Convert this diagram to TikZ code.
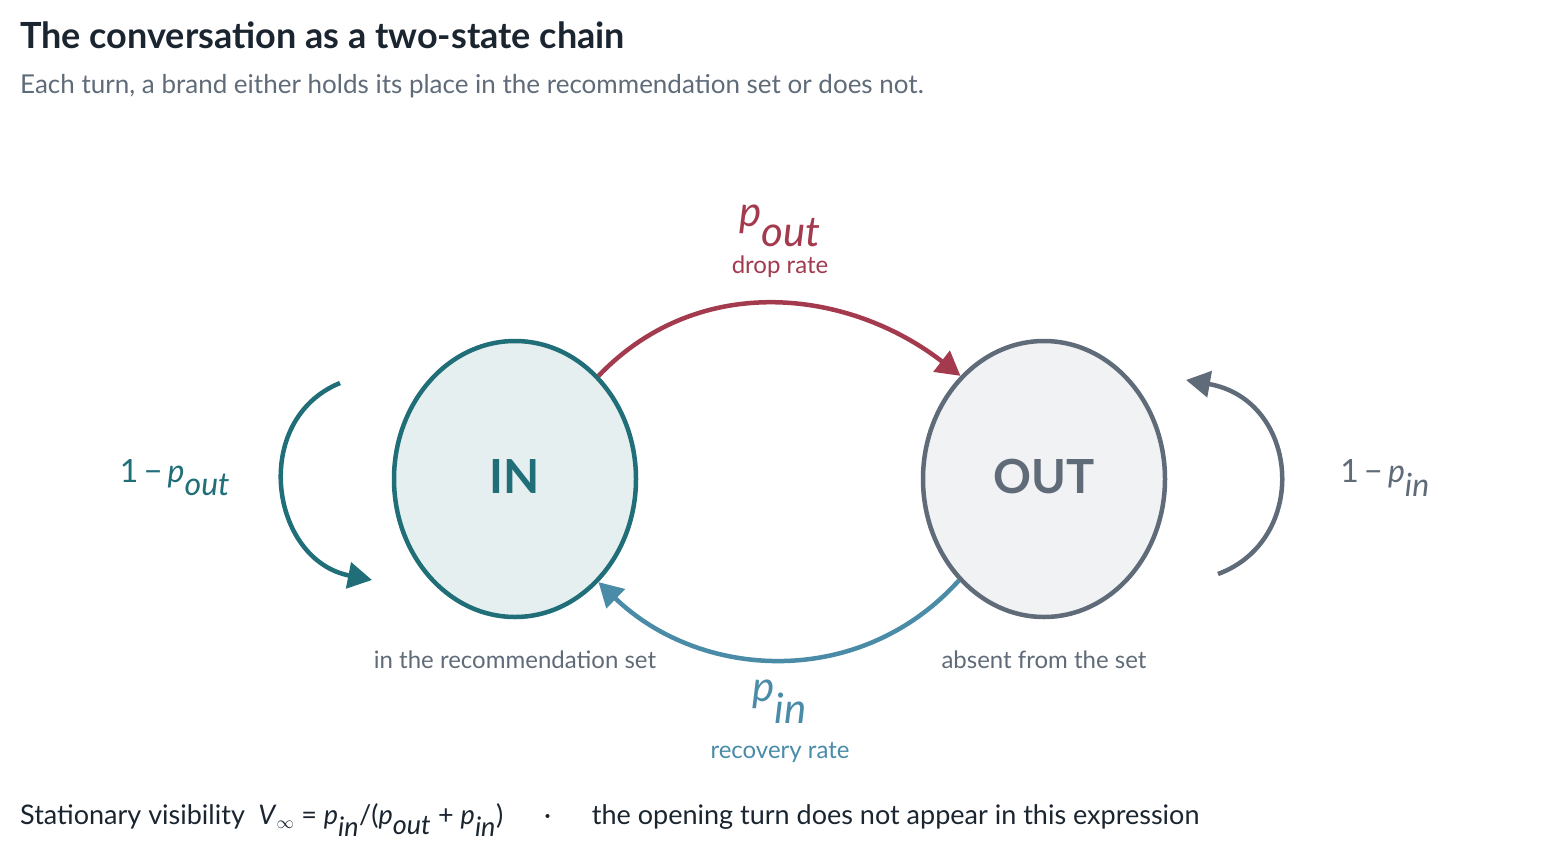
\documentclass[tikz,border=0pt]{standalone}
\usepackage{fontspec}
\setmainfont{Lato}
\usetikzlibrary{shapes.geometric,arrows.meta}
\definecolor{teal}{HTML}{1F6E78}
\definecolor{slate}{HTML}{5F6B78}
\definecolor{wine}{HTML}{A33A4E}
\definecolor{sky}{HTML}{4A8BA8}
\definecolor{ink}{HTML}{1A2530}
\newcommand{\pr}[1]{\textit{p}$_{\textit{#1}}$}
\newcommand{\fs}[1]{\fontsize{#1}{#1}\selectfont}
\tikzset{
  state/.style={ellipse, line width=4.5pt, minimum width=242pt, minimum height=276pt},
  trans/.style={line width=4.5pt, -{Triangle[length=24pt,width=26pt]}},
  note/.style={text=slate, font=\fs{24}},
}
\begin{document}
\begin{tikzpicture}[x=1pt,y=-1pt]

\useasboundingbox (0,0) rectangle (1559,857);

\node[anchor=west, inner sep=0pt, text=ink, font=\fs{36}\bfseries] (title) at (20,35) {The conversation as a two-state chain};
\node[anchor=west, inner sep=0pt, text=slate, font=\fs{26}] (sub) at (20,86) {Each turn, a brand either holds its place in the recommendation set or does not.};

\node[state, draw=teal, fill=teal!11] (in) at (515,479) {};
\node[state, draw=slate, fill=slate!9] (out) at (1044,479) {};
\node[text=teal, font=\fs{47}\bfseries] (inl) at (515,477) {IN};
\node[text=slate, font=\fs{47}\bfseries] (outl) at (1044,477) {OUT};

\node[note] (innote) at (515,660) {in the recommendation set};
\node[note] (outnote) at (1044,660) {absent from the set};

% transitions between the states
\draw[trans, wine] (in.51) .. controls (700,270) and (850,290) .. (out.129);
\draw[trans, sky] (out.-130) .. controls (860,690) and (700,680) .. (in.-51);

\node[text=wine, font=\fs{42}] (pout) at (780,226) {\pr{out}};
\node[text=wine, font=\fs{24}] (drop) at (780,267) {drop rate};
\node[text=sky, font=\fs{42}] (pin) at (780,702) {\pr{in}};
\node[text=sky, font=\fs{24}] (rec) at (780,752) {recovery rate};

% self loops
\coordinate (ls) at (340,383);
\coordinate (le) at (372,580);
\coordinate (rs) at (1218,574);
\coordinate (re) at (1186,380);
\draw[trans, teal] (ls) .. controls (250,420) and (270,560) .. (le);
\draw[trans, slate] (rs) .. controls (1310,540) and (1300,400) .. (re);

\node[text=teal, font=\fs{32}] (stayin) at (175,478) {1\,−\,\pr{out}};
\node[text=slate, font=\fs{32}] (stayout) at (1385,478) {1\,−\,\pr{in}};

\node[anchor=west, inner sep=0pt, text=ink, font=\fs{27}] (foot) at (20,820)
  {Stationary visibility\enspace \textit{V}$_{\infty}$ = \pr{in}/(\pr{out} + \pr{in})\quad\ \ ·\quad\ \ the opening turn does not appear in this expression};

\end{tikzpicture}
\end{document}
